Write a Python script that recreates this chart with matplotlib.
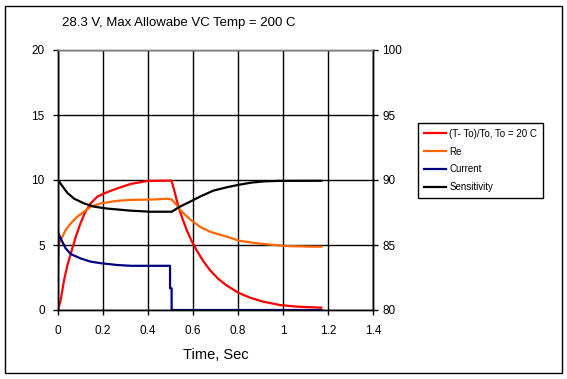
import matplotlib
matplotlib.use("Agg")
import matplotlib.pyplot as plt
from matplotlib.patches import Rectangle

plt.rcParams['font.family'] = ['Liberation Sans', 'DejaVu Sans']

title = "28.3 V, Max Allowabe VC Temp = 200 C"
x_label = "Time, Sec"
series_names = ["(T- To)/To, To = 20 C", "Re", "Current", "Sensitivity"]

# (T-To)/To  (left axis)
t_temp = [0.0, 0.012, 0.027, 0.042, 0.057, 0.079, 0.1, 0.122, 0.145, 0.175, 0.205, 0.264, 0.324,
          0.4, 0.505, 0.52, 0.535, 0.55, 0.572, 0.594, 0.616, 0.646, 0.676, 0.712, 0.75,
          0.801, 0.853, 0.912, 0.987, 1.06, 1.17]
temp_rise = [0.0, 0.77, 2.3, 3.46, 4.36, 5.64, 6.67, 7.56, 8.2, 8.72, 8.97, 9.36, 9.7,
             9.93, 9.95, 8.97, 7.95, 7.18, 6.15, 5.3, 4.6, 3.75, 3.05, 2.4, 1.88,
             1.33, 0.95, 0.64, 0.38, 0.26, 0.18]

# Re (left axis)
t_re = [0.0, 0.012, 0.034, 0.057, 0.086, 0.116, 0.145, 0.19, 0.264, 0.324, 0.425, 0.484, 0.505,
        0.527, 0.55, 0.587, 0.631, 0.676, 0.75, 0.806, 0.883, 0.942, 1.016, 1.13, 1.17]
re_vals = [4.9, 5.38, 6.15, 6.67, 7.18, 7.56, 7.95, 8.2, 8.4, 8.47, 8.5, 8.56, 8.5,
           8.08, 7.56, 6.97, 6.4, 6.02, 5.64, 5.33, 5.13, 5.03, 4.92, 4.87, 4.87]

# Current (left axis)
t_cur = [0.0, 0.002, 0.012, 0.034, 0.057, 0.1, 0.145, 0.19, 0.264, 0.324, 0.498, 0.498, 0.505, 0.505, 1.17]
current = [3.46, 5.9, 5.5, 4.74, 4.3, 3.97, 3.72, 3.6, 3.46, 3.4, 3.4, 1.67, 1.67, 0.0, 0.0]

# Sensitivity (right axis)
t_sens = [0.0, 0.019, 0.042, 0.072, 0.116, 0.16, 0.22, 0.324, 0.41, 0.505, 0.542, 0.587, 0.631,
          0.69, 0.75, 0.806, 0.86, 0.92, 0.98, 1.17]
sensitivity = [90.0, 89.54, 89.0, 88.56, 88.2, 87.95, 87.8, 87.64, 87.56, 87.56, 87.95, 88.33, 88.72,
               89.18, 89.44, 89.64, 89.8, 89.9, 89.93, 89.94]

x_ticks = [0, 0.2, 0.4, 0.6, 0.8, 1, 1.2, 1.4]
x_ticklabels = ["0", "0.2", "0.4", "0.6", "0.8", "1", "1.2", "1.4"]
left_ticks = [0, 5, 10, 15, 20]
right_ticks = [80, 85, 90, 95, 100]

W, H = 567, 379
fig = plt.figure(figsize=(W / 100, H / 100), dpi=100)
fig.patch.set_facecolor('white')
ax = fig.add_axes([58 / W, 1 - 310 / H, (373 - 58) / W, (310 - 50) / H])
ax2 = ax.twinx()

lw = 1.6
l1, = ax.plot(t_temp, temp_rise, color='#FF0000', lw=lw, label=series_names[0])
l2, = ax.plot(t_re, re_vals, color='#FF6600', lw=lw, label=series_names[1])
l3, = ax.plot(t_cur, current, color='#000080', lw=lw, label=series_names[2])
l4, = ax2.plot(t_sens, sensitivity, color='#000000', lw=lw, label=series_names[3])

ax.set_xlim(0, 1.4)
ax.set_ylim(0, 20)
ax2.set_ylim(80, 100)
ax.set_xticks(x_ticks)
ax.set_xticklabels(x_ticklabels)
ax.set_yticks(left_ticks)
ax2.set_yticks(right_ticks)

ax.grid(True, color='black', lw=1)
ax.set_axisbelow(True)
for a in (ax, ax2):
    a.tick_params(direction='out', length=3.6, width=1, labelsize=8.5, colors='black')
    for s in a.spines.values():
        s.set_color('black')
        s.set_linewidth(1)
ax.tick_params(axis='x', pad=7)
ax.tick_params(axis='y', pad=6)
ax2.tick_params(axis='y', pad=3)
ax2.spines['top'].set_color('#808080')
ax2.spines['top'].set_zorder(5)
ax.spines['top'].set_color('#808080')

ax.set_xlabel(x_label, fontsize=10.5, labelpad=8)

fig.text(62 / W, 1 - 23 / H, title, fontsize=9.5, va='center', ha='left')

leg = fig.legend([l1, l2, l3, l4], series_names, loc='upper left',
                 bbox_to_anchor=(418 / W, 1 - 123 / H), borderaxespad=0,
                 fancybox=False, edgecolor='black', fontsize=7, handlelength=2.3,
                 handletextpad=0.3, labelspacing=0.8, borderpad=0.6, framealpha=1)
leg.get_frame().set_linewidth(1)

fig.patches.append(Rectangle((5 / W, 6 / H), 557 / W, 367 / H, transform=fig.transFigure,
                             fill=False, lw=1, ec='black'))

fig.savefig("out.png", dpi=100)
